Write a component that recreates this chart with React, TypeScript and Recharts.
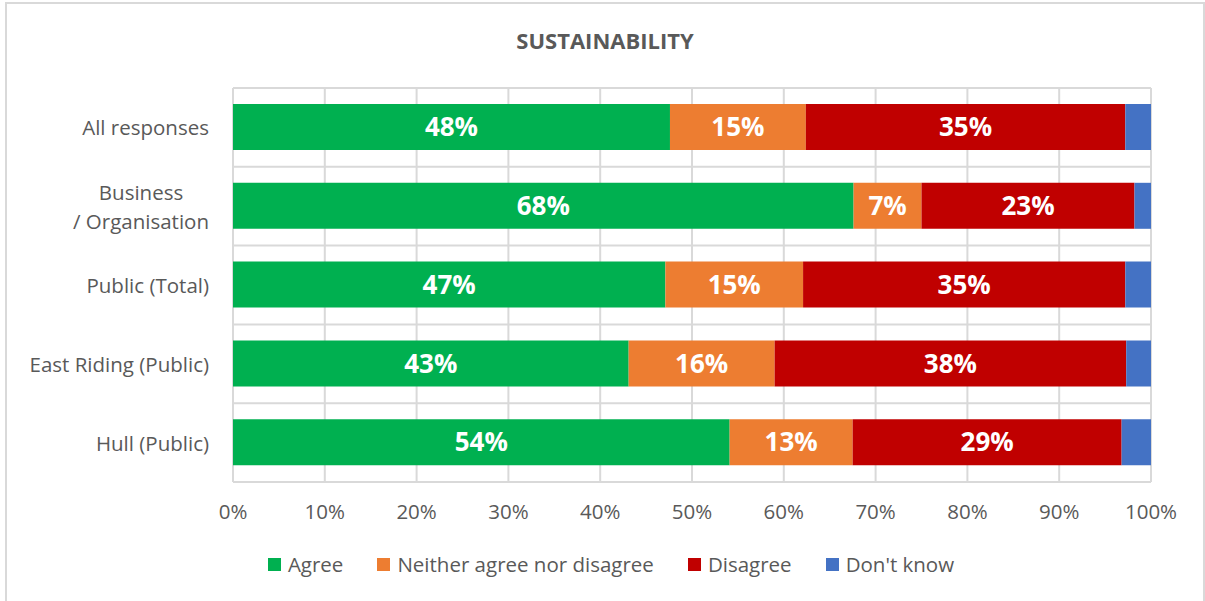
import React from 'react';
import { BarChart, Bar, XAxis, YAxis, CartesianGrid, Legend, LabelList } from 'recharts';

const categories = ['All responses', 'Business\n/ Organisation', 'Public (Total)', 'East Riding (Public)', 'Hull (Public)'];
const agree = [47.6, 67.6, 47.1, 43.1, 54.1];
const neither = [14.8, 7.4, 15.0, 15.9, 13.4];
const disagree = [34.8, 23.2, 35.1, 38.3, 29.3];
const dontKnow = [2.8, 1.8, 2.8, 2.7, 3.2];
const xTicks = [0, 10, 20, 30, 40, 50, 60, 70, 80, 90, 100];

const series = [
  { key: 'agree', name: 'Agree', color: '#00B050', label: true },
  { key: 'neither', name: 'Neither agree nor disagree', color: '#ED7D31', label: true },
  { key: 'disagree', name: 'Disagree', color: '#C00000', label: true },
  { key: 'dontKnow', name: "Don't know", color: '#4472C4', label: false },
];

const data = categories.map((name, i) => ({
  name,
  agree: agree[i],
  neither: neither[i],
  disagree: disagree[i],
  dontKnow: dontKnow[i],
}));

const FONT = '"Open Sans", sans-serif';
const TEXT = '#595959';
const GRID = '#D9D9D9';
const TICK_SIZE = 20.5;

let canvas: HTMLCanvasElement | null = null;
const measure = (s: string) => {
  if (!canvas) canvas = document.createElement('canvas');
  const ctx = canvas.getContext('2d')!;
  ctx.font = `${TICK_SIZE}px "Open Sans"`;
  return ctx.measureText(s).width;
};

const CategoryTick = (props: any) => {
  const { x, y, payload } = props;
  const lines = String(payload.value).split('\n');
  const maxW = Math.max(...lines.map(measure));
  const cx = x - maxW / 2;
  const lineH = 29;
  const startY = y - ((lines.length - 1) * lineH) / 2;
  return (
    <text x={cx} y={startY} textAnchor="middle" dominantBaseline="central" fill={TEXT} fontSize={TICK_SIZE} fontFamily={FONT}>
      {lines.map((l, i) => (
        <tspan key={i} x={cx} dy={i ? lineH : 0}>{l}</tspan>
      ))}
    </text>
  );
};

const LegendContent = () => (
  <div style={{ display: 'flex', justifyContent: 'center', height: 24, alignItems: 'center', fontFamily: FONT, fontSize: 20.5, color: TEXT }}>
    {series.map(s => (
      <div key={s.key} style={{ display: 'flex', alignItems: 'center', margin: '0 17px' }}>
        <span style={{ width: 13, height: 13, background: s.color, marginRight: 7, display: 'inline-block' }} />
        <span>{s.name}</span>
      </div>
    ))}
  </div>
);

export default function App() {
  return (
    <div style={{ position: 'absolute', left: 0, top: 0, width: 1205, height: 601, overflow: 'hidden', background: '#fff' }}>
      <div style={{ position: 'absolute', left: 5, top: 2, width: 1196, height: 640, border: `2px solid ${GRID}` }} />
      <div style={{ position: 'absolute', left: 0, top: 25, width: 1210, textAlign: 'center', fontFamily: FONT, fontWeight: 700, fontSize: 22, color: TEXT }}>
        SUSTAINABILITY
      </div>
      <div style={{ position: 'absolute', left: 0, top: 0 }}>
        <BarChart
          width={1205}
          height={601}
          data={data}
          layout="vertical"
          margin={{ top: 88, right: 54, left: 8, bottom: 65 }}
        >
          <CartesianGrid
            stroke={GRID}
            strokeWidth={2}
            vertical={true}
            horizontal={true}
            horizontalCoordinatesGenerator={({ offset }: any) =>
              Array.from({ length: categories.length + 1 }, (_, i) => offset.top + (i * offset.height) / categories.length)
            }
          />
          <XAxis
            type="number"
            domain={[0, 100]}
            ticks={xTicks}
            tickFormatter={(v: number) => `${v}%`}
            axisLine={false}
            tickLine={false}
            tickSize={0}
            tickMargin={22}
            tick={{ fill: TEXT, fontSize: TICK_SIZE, fontFamily: FONT }}
            interval={0}
          />
          <YAxis
            type="category"
            dataKey="name"
            width={225}
            axisLine={false}
            tickLine={false}
            tickSize={0}
            tickMargin={24}
            tick={<CategoryTick />}
            interval={0}
          />
          <Legend verticalAlign="bottom" content={<LegendContent />} wrapperStyle={{ top: 552, left: 6, width: 1210 }} />
          {series.map(s => (
            <Bar key={s.key} dataKey={s.key} name={s.name} stackId="a" fill={s.color} barSize={46} isAnimationActive={false}>
              {s.label && (
                <LabelList
                  dataKey={s.key}
                  position="center"
                  formatter={(v: any) => `${Math.round(Number(v))}%`}
                  style={{ fill: '#fff', fontSize: 26, fontWeight: 700, fontFamily: FONT }}
                />
              )}
            </Bar>
          ))}
        </BarChart>
      </div>
    </div>
  );
}
